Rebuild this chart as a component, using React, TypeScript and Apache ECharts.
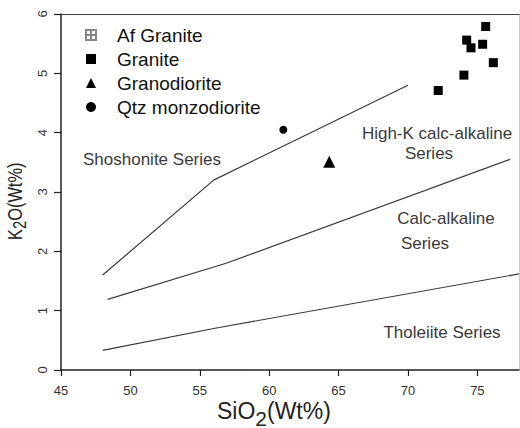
import React, { useEffect, useRef } from "react";
import * as echarts from "echarts";

const FONT = "'Liberation Sans', Arial, Helvetica, sans-serif";

// Samples
const graniteSiO2 = [75.6, 74.23, 74.54, 75.38, 76.15, 74.03, 72.18];
const graniteK2O = [5.79, 5.56, 5.43, 5.49, 5.18, 4.97, 4.71];
const granodioriteSiO2 = [64.33];
const granodioriteK2O = [3.51];
const qtzMonzodioriteSiO2 = [61.02];
const qtzMonzodioriteK2O = [4.05];

// Series boundaries (Peccerillo & Taylor type)
const shoshoniteSiO2 = [48.0, 56.0, 70.0];
const shoshoniteK2O = [1.6, 3.2, 4.8];
const highKSiO2 = [48.36, 56.9, 77.35];
const highKK2O = [1.19, 1.8, 3.55];
const tholeiiteSiO2 = [48.0, 56.0, 78.0];
const tholeiiteK2O = [0.33, 0.7, 1.62];

const legendNames = ["Af Granite", "Granite", "Granodiorite", "Qtz monzodiorite"];

const zip = (xs: number[], ys: number[]) => xs.map((x, i) => [x, ys[i]]);

export default function App() {
  const ref = useRef<HTMLDivElement>(null);

  useEffect(() => {
    if (!ref.current) return;
    const chart = echarts.init(ref.current, undefined, { renderer: "svg" });

    const boundaryStyle = { color: "#3a3a3a", width: 1.2 };
    const regionText = (text: string, x: number, y: number, align: string) => ({
      type: "text",
      x,
      y,
      silent: true,
      style: {
        text,
        fontSize: 17,
        fontFamily: FONT,
        fill: "#3a3a3a",
        align,
        verticalAlign: "middle",
      },
    });

    chart.setOption({
      animation: false,
      textStyle: { fontFamily: FONT },
      grid: { left: 61, right: 1, top: 14, bottom: 58, containLabel: false },
      xAxis: [
        {
          type: "value",
          min: 45,
          max: 78,
          interval: 5,
          axisLine: { show: true, onZero: false, lineStyle: { color: "#222", width: 1.5 } },
          axisTick: { show: true, length: 6, lineStyle: { color: "#222", width: 1.2 } },
          axisLabel: {
            fontSize: 13,
            color: "#333",
            margin: 14,
            showMaxLabel: false,
            formatter: (v: number) => (v % 5 === 0 ? String(v) : ""),
          },
          splitLine: { show: false },
        },
        {
          type: "value",
          position: "top",
          min: 45,
          max: 78,
          axisLine: { show: true, onZero: false, lineStyle: { color: "#444", width: 1.2 } },
          axisTick: { show: false },
          axisLabel: { show: false },
          splitLine: { show: false },
        },
      ],
      yAxis: [
        {
          type: "value",
          min: 0,
          max: 6,
          interval: 1,
          axisLine: { show: true, onZero: false, lineStyle: { color: "#222", width: 1.5 } },
          axisTick: { show: true, length: 7, lineStyle: { color: "#222", width: 1.2 } },
          axisLabel: { fontSize: 13, color: "#333", rotate: 90, margin: 12 },
          splitLine: { show: false },
        },
        {
          type: "value",
          position: "right",
          min: 0,
          max: 6,
          axisLine: { show: true, onZero: false, lineStyle: { color: "#c8c8c8", width: 1 } },
          axisTick: { show: false },
          axisLabel: { show: false },
          splitLine: { show: false },
        },
      ],
      legend: {
        orient: "vertical",
        left: 80,
        top: 20,
        itemWidth: 10,
        itemHeight: 10,
        itemGap: 4,
        selectedMode: false,
        textStyle: {
          fontSize: 19,
          color: "#111",
          lineHeight: 20,
          fontFamily: FONT,
          padding: [0, 0, 0, 16],
        },
        data: [
          { name: legendNames[0] },
          { name: legendNames[1] },
          { name: legendNames[2], itemStyle: { color: "#000" } },
          { name: legendNames[3] },
        ],
      },
      graphic: [
        {
          type: "group",
          x: 217,
          y: 411,
          silent: true,
          children: [
            { type: "text", x: 0, y: 0, style: { text: "SiO", fontSize: 23, fontFamily: FONT, fill: "#222", verticalAlign: "middle" } },
            { type: "text", x: 38.3, y: 7, style: { text: "2", fontSize: 21, fontFamily: FONT, fill: "#222", verticalAlign: "middle" } },
            { type: "text", x: 50, y: 0, style: { text: "(Wt%)", fontSize: 23, fontFamily: FONT, fill: "#222", verticalAlign: "middle" } },
          ],
        },
        {
          type: "group",
          x: 15,
          y: 240,
          rotation: Math.PI / 2,
          scaleX: 0.78,
          silent: true,
          children: [
            { type: "text", x: 0, y: 0, style: { text: "K", fontSize: 21, fontFamily: FONT, fill: "#222", verticalAlign: "middle" } },
            { type: "text", x: 14, y: 5, style: { text: "2", fontSize: 19, fontFamily: FONT, fill: "#222", verticalAlign: "middle" } },
            { type: "text", x: 24.6, y: 0, style: { text: "O(Wt%)", fontSize: 21, fontFamily: FONT, fill: "#222", verticalAlign: "middle" } },
          ],
        },
        regionText("Shoshonite Series", 83, 159, "left"),
        regionText("High-K calc-alkaline", 437, 133, "center"),
        regionText("Series", 429, 153, "center"),
        regionText("Calc-alkaline", 446, 218, "center"),
        regionText("Series", 425, 243, "center"),
        regionText("Tholeiite Series", 442, 332, "center"),
      ],
      series: [
        {
          name: "Af Granite",
          type: "scatter",
          symbol: "path://M0,0L10,0L10,10L0,10Z M5,0L5,10 M0,5L10,5",
          symbolSize: 9,
          itemStyle: { color: "rgba(255,255,255,0)", borderColor: "#888", borderWidth: 1, opacity: 1 },
          data: [],
        },
        {
          name: "Granite",
          type: "scatter",
          symbol: "rect",
          symbolSize: 9,
          itemStyle: { color: "#000", opacity: 1 },
          data: zip(graniteSiO2, graniteK2O),
        },
        {
          name: "Granodiorite",
          type: "scatter",
          symbol: "triangle",
          symbolSize: 12,
          itemStyle: { color: "#000", opacity: 1 },
          data: zip(granodioriteSiO2, granodioriteK2O),
        },
        {
          name: "Qtz monzodiorite",
          type: "scatter",
          symbol: "circle",
          symbolSize: 8,
          itemStyle: { color: "#000", opacity: 1 },
          data: zip(qtzMonzodioriteSiO2, qtzMonzodioriteK2O),
        },
        {
          name: "shoshonite boundary",
          type: "line",
          symbol: "none",
          silent: true,
          lineStyle: boundaryStyle,
          data: zip(shoshoniteSiO2, shoshoniteK2O),
        },
        {
          name: "high-K boundary",
          type: "line",
          symbol: "none",
          silent: true,
          lineStyle: boundaryStyle,
          data: zip(highKSiO2, highKK2O),
        },
        {
          name: "tholeiite boundary",
          type: "line",
          symbol: "none",
          silent: true,
          lineStyle: boundaryStyle,
          data: zip(tholeiiteSiO2, tholeiiteK2O),
        },
      ],
    });

    return () => chart.dispose();
  }, []);

  return (
    <div
      ref={ref}
      style={{ position: "fixed", left: 0, top: 0, width: 520, height: 428, background: "#fff" }}
    />
  );
}
